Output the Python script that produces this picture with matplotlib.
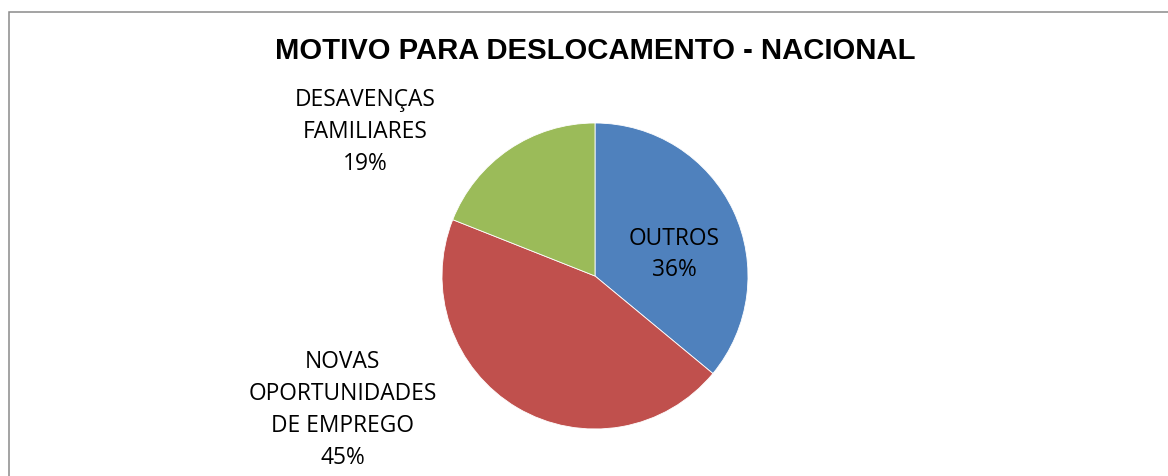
import matplotlib.pyplot as plt
from matplotlib.patches import Rectangle

# pie data
labels = ["OUTROS", "NOVAS\nOPORTUNIDADES\nDE EMPREGO", "DESAVENÇAS\nFAMILIARES"]
pcts = [36, 45, 19]
colors = ["#4F81BD", "#C0504D", "#9BBB59"]
title = "MOTIVO PARA DESLOCAMENTO - NACIONAL"

W, H = 1168, 477
fig = plt.figure(figsize=(W / 100, H / 100), dpi=100)

# frame around the chart (cut off at right and bottom)
fig.patches.append(Rectangle((9 / W, -0.1), 1.2, 1.1 - 12.5 / H,
                             transform=fig.transFigure, fill=False,
                             edgecolor="#8a8a8a", linewidth=1.1))

cx, cy, r = 595, 477 - 277, 153
ax = fig.add_axes([(cx - r) / W, (cy - r) / H, 2 * r / W, 2 * r / H])
ax.pie(pcts, colors=colors, startangle=90, counterclock=False,
       wedgeprops=dict(linewidth=0.6, edgecolor="white"))
ax.set_xlim(-1, 1)
ax.set_ylim(-1, 1)
ax.set_aspect("equal")
ax.axis("off")

label_pos = [(0.52, 0.147), (-1.65, -0.87), (-1.50, 0.945)]
for lab, p, (x, y) in zip(labels, pcts, label_pos):
    ax.text(x, y, f"{lab}\n{p}%", ha="center", va="center",
            fontsize=16.4, family="Open Sans", linespacing=1.44,
            color="black", clip_on=False)

fig.text(cx / W, 1 - 51 / H, title, ha="center", va="center",
         fontsize=21.1, fontweight="bold", family="Liberation Sans")

fig.savefig("out.png", dpi=100)
